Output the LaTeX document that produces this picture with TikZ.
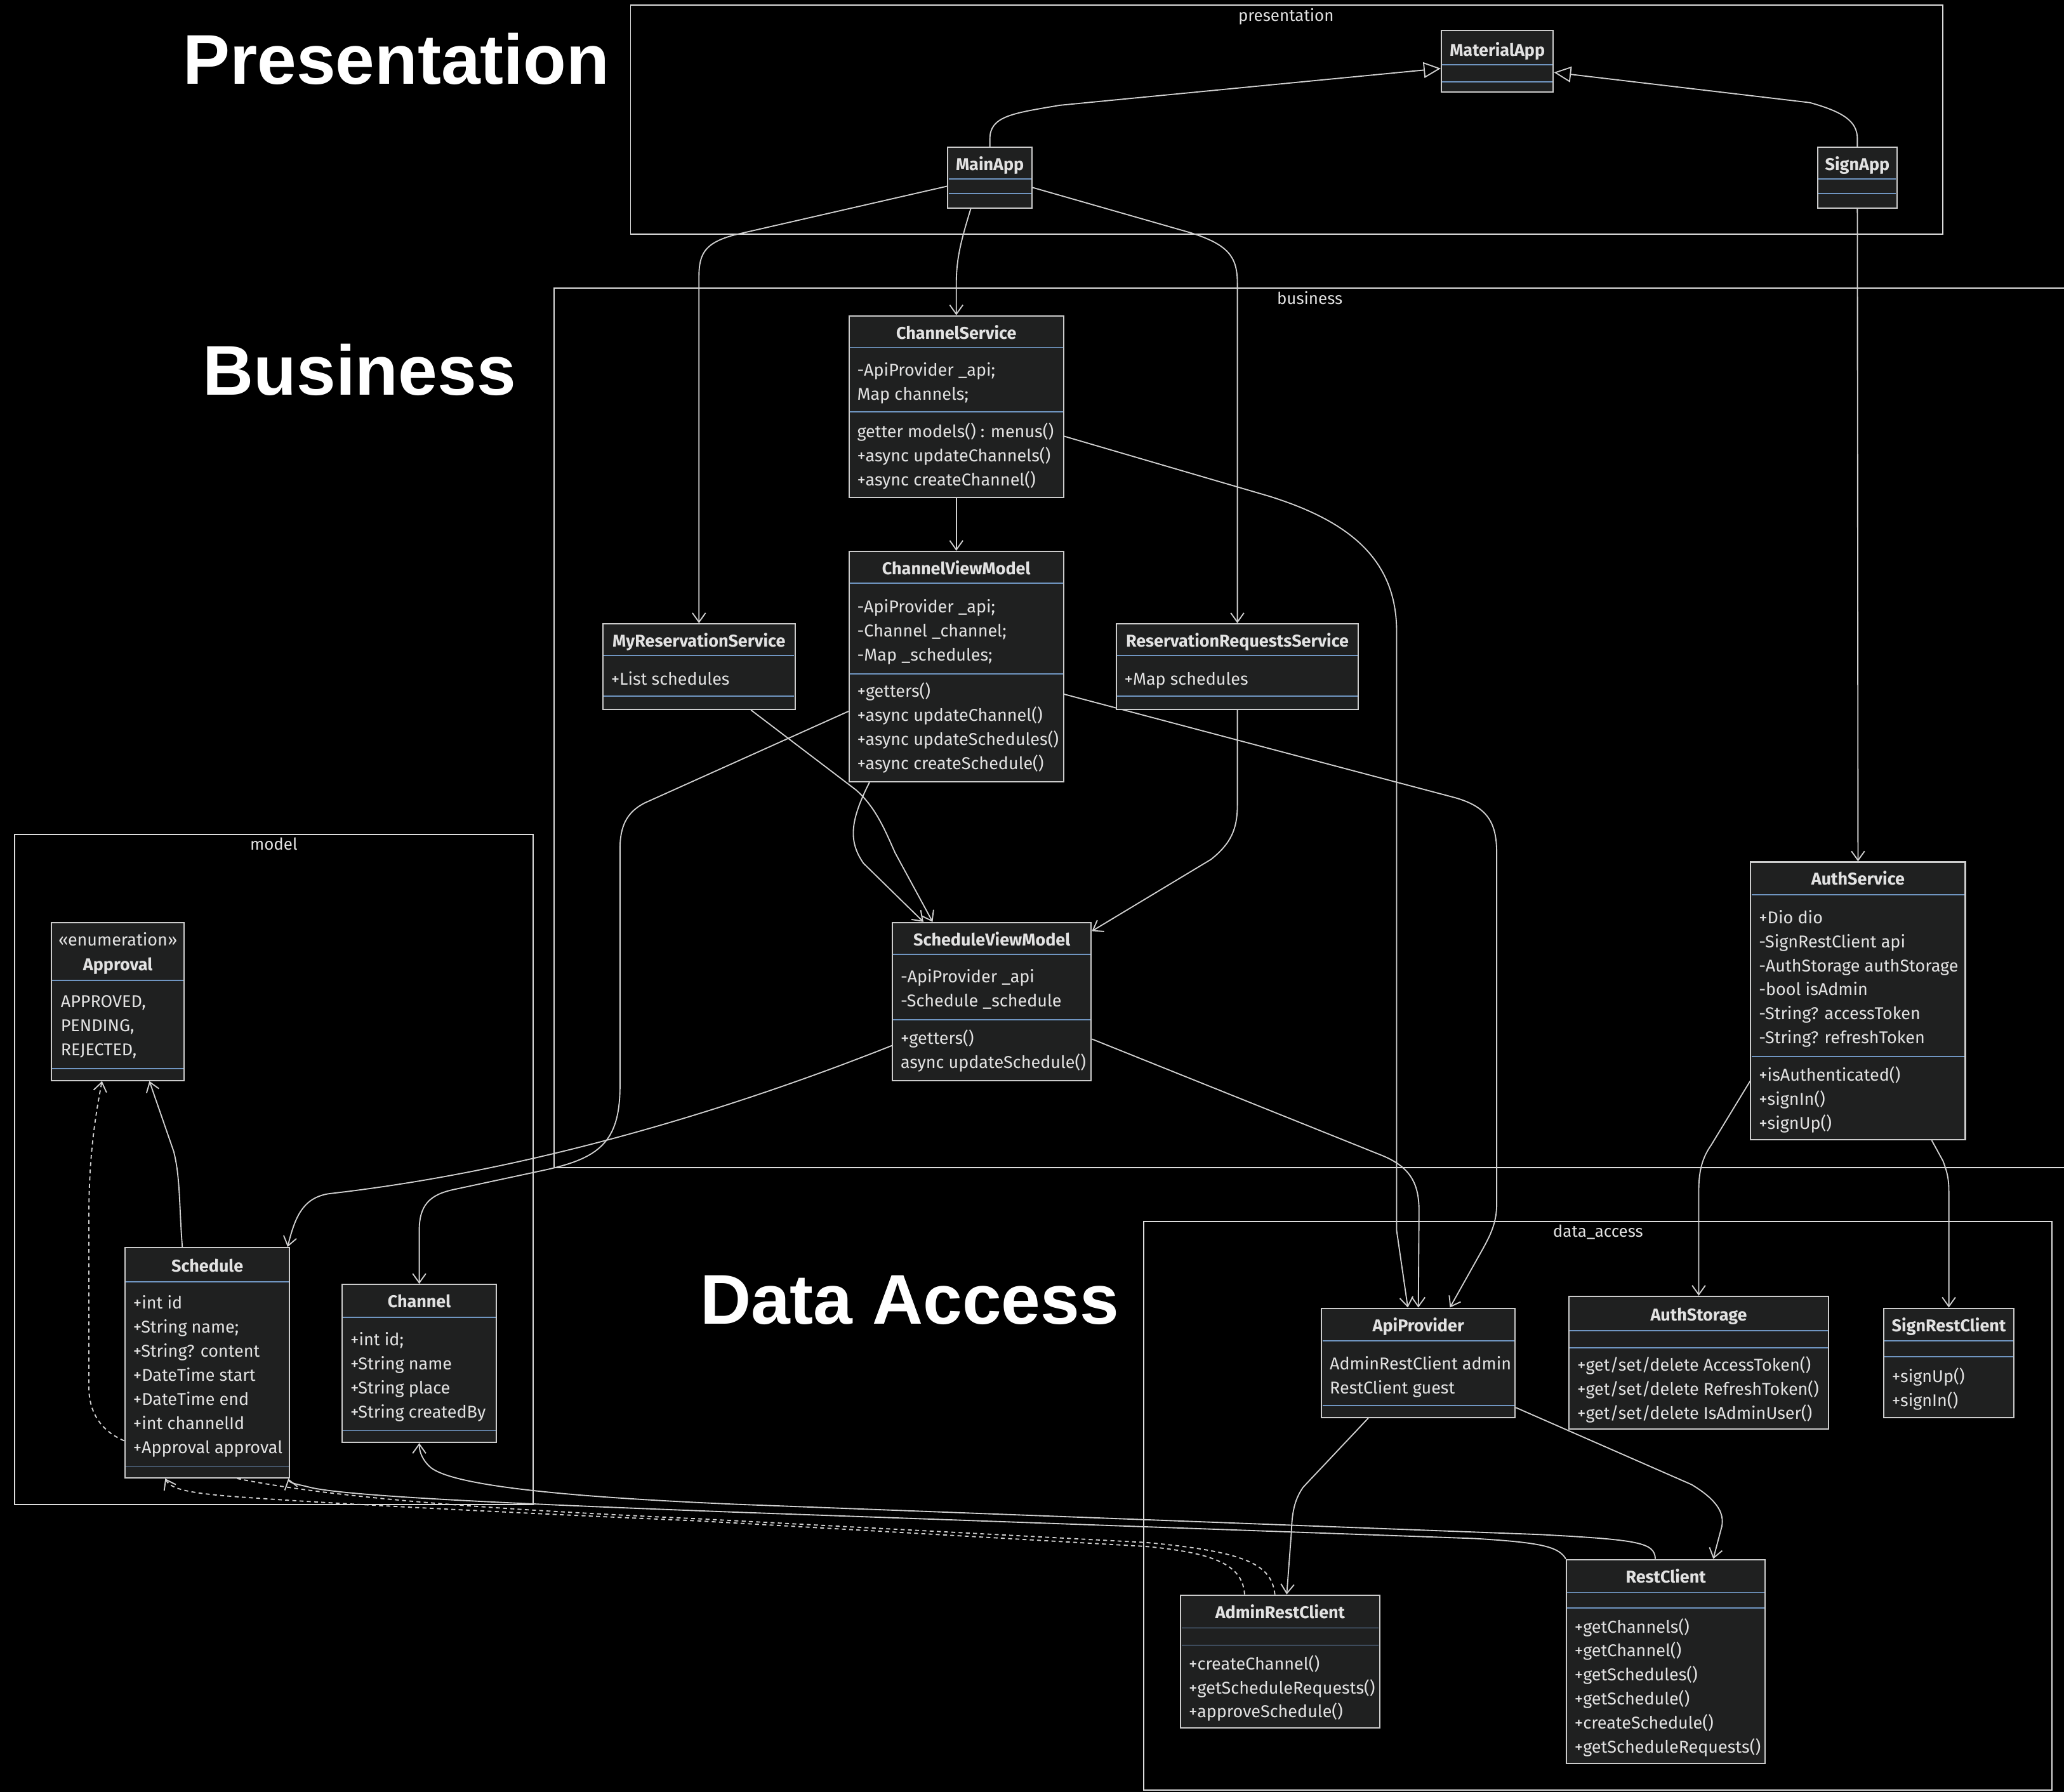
\documentclass[tikz,border=0pt]{standalone}
\usepackage{fontspec}
\setmainfont{Fira Sans}
\newfontfamily\titlefont{Liberation Sans}
\usetikzlibrary{arrows.meta,calc}
\definecolor{boxfill}{HTML}{1F2020}
\definecolor{boxline}{HTML}{CCCCCC}
\definecolor{sepline}{HTML}{7096C2}
\definecolor{txtcol}{HTML}{E2E2E2}
\definecolor{edgecol}{HTML}{D0D0D0}
\definecolor{clustline}{HTML}{DDDDDD}
\pgfdeclarelayer{bg}
\pgfdeclarelayer{edges}
\pgfsetlayers{bg,edges,main}
\tikzset{
  umlbox/.style={draw=boxline, fill=boxfill, line width=1pt, inner sep=0pt},
  sepl/.style={draw=sepline, line width=0.9pt},
  txt/.style={text=txtcol, font=\fontsize{13}{15}\selectfont, inner sep=0pt},
  hdrtxt/.style={text=txtcol, font=\fontsize{13}{15}\selectfont\bfseries, inner sep=0pt},
  clust/.style={draw=clustline, line width=0.9pt},
  clab/.style={text=txtcol, font=\fontsize{12.5}{15}\selectfont, inner sep=0pt},
  bigtitle/.style={text=white, font=\titlefont\bfseries\fontsize{53.5}{60}\selectfont, inner sep=0pt},
  edge/.style={draw=edgecol, line width=0.9pt, -{Straight Barb[length=7pt,width=10pt]}},
  dep/.style={edge, dash pattern=on 3pt off 2.5pt},
  inh/.style={draw=edgecol, line width=0.9pt, -{Triangle[open,length=13pt,width=12pt]}},
}
% name, x1, y1, x2, y2
\newcommand\ubox[5]{\node[umlbox, minimum width={(#4-#2)*1pt}, minimum height={(#5-#3)*1pt}] (#1) at ({(#2+#4)/2},{(#3+#5)/2}) {};}
\newcommand\sepx[3]{\draw[sepl] (#1+0.6,#3) -- (#2-0.6,#3);}
\newcommand\hdr[4]{\node[hdrtxt, anchor=base] (#1) at (#2,{#3+4.6}) {#4};}
\newcommand\lns[4]{\foreach \itm [count=\i from 0] in {#4} {\node[txt, anchor=base west] (#1\i) at (#2,{#3+4.6+\i*18.3}) {\itm};}}
\begin{document}
\begin{tikzpicture}[x=1pt,y=-1pt]
\begin{pgfonlayer}{bg}
\fill[black] (0,0) rectangle (1568,1361.6);
\end{pgfonlayer}
\useasboundingbox (0,0) rectangle (1568,1361.6);
\clip (0,0) rectangle (1568,1361.6);

% clusters
\begin{pgfonlayer}{bg}
\draw[clust] (479,4) rectangle (1476,178);
\draw[clust] (421,219) rectangle (1585,887);
\draw[clust] (11,634) rectangle (405,1143);
\draw[clust] (869,928) rectangle (1559,1360);
\end{pgfonlayer}
\node[clab, anchor=base] (lpres) at (977,16) {presentation};
\node[clab, anchor=base] (lbus) at (995,231) {business};
\node[clab, anchor=base] (lmod) at (208,646) {model};
\node[clab, anchor=base] (ldat) at (1214,940) {data\_access};

% big titles
\node[bigtitle, anchor=base] (tpres) at (301,64) {Presentation};
\node[bigtitle, anchor=base] (tbus) at (273,300) {Business};
\node[bigtitle, anchor=base] (tdat) at (691,1006) {Data Access};

% MaterialApp
\ubox{mat}{1095}{23}{1180}{70}
\hdr{matH}{1137.5}{38}{MaterialApp}
\sepx{1095}{1180}{49}\sepx{1095}{1180}{62}
% MainApp
\ubox{main}{720}{112}{784}{158}
\hdr{mainH}{752}{125}{MainApp}
\sepx{720}{784}{136}\sepx{720}{784}{147}
% SignApp
\ubox{sign}{1381}{112}{1441}{158}
\hdr{signH}{1411}{125}{SignApp}
\sepx{1381}{1441}{136}\sepx{1381}{1441}{147}
% ChannelService
\ubox{cs}{645}{240}{808}{378}
\hdr{csH}{726.5}{253}{ChannelService}
\sepx{645}{808}{264}\sepx{645}{808}{313}
\lns{csA}{651}{281}{-ApiProvider \_api;, Map channels;}
\lns{csM}{651}{328}{getter models() : menus(), +async updateChannels(), +async createChannel()}
% ChannelViewModel
\ubox{cvm}{645}{419}{808}{594}
\hdr{cvmH}{726.5}{432}{ChannelViewModel}
\sepx{645}{808}{443}\sepx{645}{808}{512}
\lns{cvmA}{651}{461}{-ApiProvider \_api;, -Channel \_channel;, -Map \_schedules;}
\lns{cvmM}{651}{525}{+getters(), +async updateChannel(), +async updateSchedules(), +async createSchedule()}
% MyReservationService
\ubox{mrs}{458}{474}{604}{539}
\hdr{mrsH}{531}{487}{MyReservationService}
\sepx{458}{604}{498}\sepx{458}{604}{529}
\lns{mrsA}{464}{516}{+List schedules}
% ReservationRequestsService
\ubox{rrs}{848}{474}{1032}{539}
\hdr{rrsH}{940}{487}{ReservationRequestsService}
\sepx{848}{1032}{498}\sepx{848}{1032}{529}
\lns{rrsA}{854}{516}{+Map schedules}
% ScheduleViewModel
\ubox{svm}{678}{701}{829}{821}
\hdr{svmH}{753.5}{714}{ScheduleViewModel}
\sepx{678}{829}{725}\sepx{678}{829}{775}
\lns{svmA}{684}{742}{-ApiProvider \_api, -Schedule \_schedule}
\lns{svmM}{684}{789}{+getters(), async updateSchedule()}
% AuthService
\ubox{auth}{1330}{655}{1493}{866}
\hdr{authH}{1411.5}{668}{AuthService}
\sepx{1330}{1493}{680}\sepx{1330}{1493}{803}
\lns{authA}{1336}{697}{+Dio dio, -SignRestClient api, -AuthStorage authStorage, -bool isAdmin, -String? accessToken, -String? refreshToken}
\lns{authM}{1336}{817}{+isAuthenticated(), +signIn(), +signUp()}
% Approval
\ubox{appr}{39}{701}{140}{821}
\node[txt, anchor=base] (apprS) at (89.5,718.6) {«enumeration»};
\hdr{apprH}{89.5}{733}{Approval}
\sepx{39}{140}{745}\sepx{39}{140}{812}
\lns{apprA}{46}{761}{{APPROVED,}, {PENDING,}, {REJECTED,}}
% Schedule
\ubox{sched}{95}{948}{220}{1123}
\hdr{schedH}{157.5}{962}{Schedule}
\sepx{95}{220}{974}\sepx{95}{220}{1114}
\lns{schedA}{101}{990}{+int id, +String name;, +String? content, +DateTime start, +DateTime end, +int channelId, +Approval approval}
% Channel
\ubox{chan}{260}{976}{377}{1096}
\hdr{chanH}{318.5}{989}{Channel}
\sepx{260}{377}{1001}\sepx{260}{377}{1087}
\lns{chanA}{266}{1018}{+int id;, +String name, +String place, +String createdBy}
% ApiProvider
\ubox{api}{1004}{994}{1151}{1077}
\hdr{apiH}{1077.5}{1007}{ApiProvider}
\sepx{1004}{1151}{1019}\sepx{1004}{1151}{1068}
\lns{apiA}{1010}{1036}{AdminRestClient admin, RestClient guest}
% AuthStorage
\ubox{store}{1192}{985}{1389}{1086}
\hdr{storeH}{1290.5}{999}{AuthStorage}
\sepx{1192}{1389}{1011}\sepx{1192}{1389}{1024}
\lns{storeM}{1198}{1037}{+get/set/delete AccessToken(), +get/set/delete RefreshToken(), +get/set/delete IsAdminUser()}
% SignRestClient
\ubox{srest}{1431}{994}{1530}{1077}
\hdr{srestH}{1480.5}{1007}{SignRestClient}
\sepx{1431}{1530}{1019}\sepx{1431}{1530}{1031}
\lns{srestM}{1437}{1046}{+signUp(), +signIn()}
% AdminRestClient
\ubox{admin}{897}{1212}{1048}{1313}
\hdr{adminH}{972.5}{1225}{AdminRestClient}
\sepx{897}{1048}{1237}\sepx{897}{1048}{1250}
\lns{adminM}{903}{1264}{+createChannel(), +getScheduleRequests(), +approveSchedule()}
% RestClient
\ubox{rest}{1190}{1185}{1341}{1340}
\hdr{restH}{1265.5}{1198}{RestClient}
\sepx{1190}{1341}{1210}\sepx{1190}{1341}{1222}
\lns{restM}{1196}{1236}{+getChannels(), +getChannel(), +getSchedules(), +getSchedule(), +createSchedule(), +getScheduleRequests()}

% connectors
\begin{pgfonlayer}{edges}
\draw[inh] (main.north) -- ++(0,-6) .. controls (752,88) and (770,86) .. (805,80) -- ($(mat.west)+(0,5.5)$);
\draw[inh] (sign.north) -- ++(0,-6) .. controls (1411,92) and (1400,85) .. (1375,78) -- ($(mat.east)+(0,8.5)$);
\draw[edge] ($(main.north west)+(0,30)$) -- (560,178) .. controls (536,184) and (531,192) .. (531,210) -- (mrs.north);
\draw[edge] ($(main.south west)+(18,0)$) .. controls (731,180) and (726.5,195) .. (726.5,215) -- (cs.north);
\draw[edge] ($(main.north east)+(0,31)$) -- (905,177) .. controls (933,186) and (940,195) .. (940,215) -- (rrs.north);
\draw[edge] (sign.south) -- (auth.north);
\draw[edge] (cs.south) -- (cvm.north);
\draw[edge] ($(cs.north east)+(0,92)$) -- (964,377) .. controls (1025,396) and (1061,425) .. (1061,480) -- (1061,935) -- ($(api.north west)+(66,0)$);
\draw[edge] ($(cvm.north east)+(0,109)$) -- (1105,606) .. controls (1130,613) and (1137,625) .. (1137,648) -- (1137,915) .. controls (1137,928) and (1133,937) .. (1127,948) -- ($(api.north west)+(98,0)$);
\draw[edge] ($(cvm.south west)+(16,0)$) .. controls (645,625) and (645,640) .. (656,656) -- ($(svm.north west)+(24,0)$);
\draw[edge] ($(mrs.south west)+(113,0)$) -- (650,600) .. controls (665,613) and (672,630) .. (680,648) -- ($(svm.north west)+(31,0)$);
\draw[edge] (rrs.south) -- (940,612) .. controls (940,630) and (935,641) .. (920,653) -- ($(svm.north east)+(0,7)$);
\draw[edge] ($(cvm.north west)+(0,122)$) -- (490,610) .. controls (476,617) and (471,628) .. (471,645) -- (471,825) .. controls (471,868) and (455,880) .. (414,889) -- (344,904) .. controls (326,908) and (318.5,916) .. (318.5,935) -- (chan.north);
\draw[edge] ($(svm.north west)+(0,94)$) .. controls (550,845) and (400,890) .. (250,907) .. controls (230,910) and (224,925) .. ($(sched.north east)+(-2,0)$);
\draw[edge] ($(sched.north west)+(44,0)$) .. controls (136,915) and (137,895) .. (132,875) -- ($(appr.south west)+(75,0)$);
\draw[edge] ($(api.south west)+(36,0)$) -- (990,1130) .. controls (983,1140) and (981.5,1150) .. (981,1165) -- ($(admin.north west)+(81,0)$);
\draw[edge] ($(api.north east)+(0,76)$) -- (1285,1128) .. controls (1305,1140) and (1310,1150) .. (1308,1160) -- ($(rest.north west)+(112,0)$);
\draw[edge] ($(auth.north west)+(0,167)$) -- (1300,870) .. controls (1293,880) and (1290.5,890) .. (1290.5,905) -- (store.north);
\draw[edge] ($(auth.south west)+(138,0)$) -- (1476,882) .. controls (1479,890) and (1480.5,895) .. (1480.5,905) -- (srest.north);
\draw[edge] ($(svm.north east)+(0,89)$) -- (1050,878) .. controls (1072,887) and (1078,900) .. (1078,920) -- ($(api.north west)+(74,0)$);
\draw[edge] ($(rest.north west)+(68,0)$) .. controls (1257,1172) and (1245,1170) .. (1170,1166) -- (559,1143) .. controls (420,1137) and (340,1128) .. (326,1114) .. controls (320,1108) and (318.5,1102) .. (chan.south);
\draw[edge] (rest.north west) .. controls (1184,1175) and (1170,1172) .. (1120,1169) -- (559,1149) .. controls (400,1143) and (262,1137) .. (235,1130) .. controls (225,1127.5) and (220,1127) .. ($(sched.south east)+(-1.5,0)$);
\draw[dep] ($(admin.north west)+(49,0)$) .. controls (944,1190) and (925,1180) .. (870,1175) -- (530,1155.6) .. controls (400,1150) and (260,1143) .. (190,1138) .. controls (145,1135) and (130,1132) .. ($(sched.south west)+(31,0)$);
\draw[dep] ($(admin.north west)+(72,0)$) .. controls (966,1190) and (950,1179) .. (870,1172) -- (530,1154) .. controls (400,1148) and (260,1140) .. (178,1123) -- (95,1095) .. controls (78,1088) and (68,1075) .. (67.5,1055) -- (67.5,925) .. controls (67.5,880) and (72,850) .. ($(appr.south west)+(39,0)$);
\end{pgfonlayer}
\end{tikzpicture}
\end{document}
